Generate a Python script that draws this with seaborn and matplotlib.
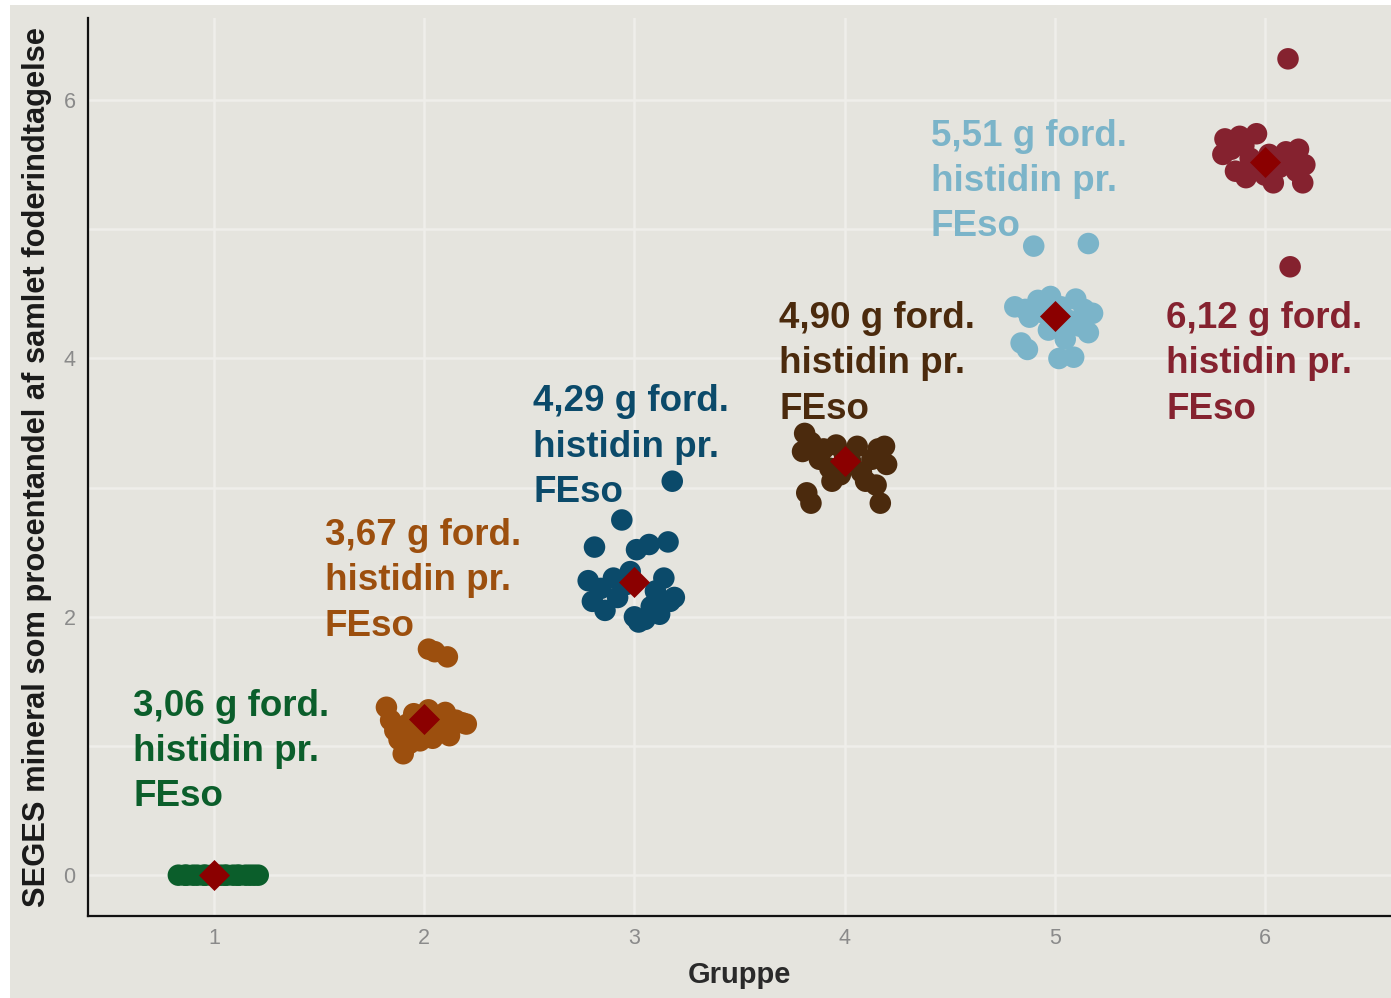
import matplotlib
matplotlib.use("Agg")
import matplotlib.pyplot as plt
import seaborn as sns
import pandas as pd
from matplotlib.patches import Rectangle

# ---------------- data ----------------
groups = [1, 2, 3, 4, 5, 6]
group_colors = ["#0b5e2b", "#9c4f0e", "#0b4a6a", "#4b2a0d", "#7bb4c9", "#85222f"]
annotations = [
    "3,06 g ford.\nhistidin pr.\nFEso",
    "3,67 g ford.\nhistidin pr.\nFEso",
    "4,29 g ford.\nhistidin pr.\nFEso",
    "4,90 g ford.\nhistidin pr.\nFEso",
    "5,51 g ford.\nhistidin pr.\nFEso",
    "6,12 g ford.\nhistidin pr.\nFEso",
]
group_means = [0.00, 1.21, 2.27, 3.21, 4.33, 5.52]

g1_x = [0.83, 0.86, 0.87, 0.90, 0.92, 0.95, 0.96, 0.99, 1.00, 1.03,
        1.05, 1.06, 1.09, 1.11, 1.12, 1.15, 1.17, 1.19, 1.21]
g1_y = [0.0, 0.0, 0.0, 0.0, 0.0, 0.0, 0.0, 0.0, 0.0, 0.0,
        0.0, 0.0, 0.0, 0.0, 0.0, 0.0, 0.0, 0.0, 0.0]

g2_x = [1.82, 1.84, 1.86, 1.88, 1.90, 1.92, 1.95, 1.97, 2.00, 2.02, 2.04, 2.06,
        2.08, 2.10, 2.12, 2.15, 2.18, 2.20, 2.02, 2.05, 2.11, 1.93, 1.98]
g2_y = [1.30, 1.20, 1.12, 1.05, 0.94, 1.17, 1.25, 1.10, 1.15, 1.28, 1.06, 1.22,
        1.12, 1.26, 1.08, 1.20, 1.18, 1.17, 1.75, 1.73, 1.69, 1.02, 1.04]

g3_x = [2.81, 2.94, 3.18, 3.01, 3.07, 3.16, 2.78, 2.80, 2.84, 2.86, 2.90, 2.92,
        2.96, 3.00, 3.02, 3.05, 3.08, 3.10, 3.14, 3.17, 3.19, 3.12, 2.98]
g3_y = [2.54, 2.75, 3.05, 2.52, 2.56, 2.58, 2.28, 2.12, 2.22, 2.05, 2.30, 2.15,
        2.25, 2.00, 1.96, 1.98, 2.08, 2.20, 2.30, 2.12, 2.15, 2.02, 2.35]

g4_x = [3.81, 3.80, 3.84, 3.88, 3.90, 3.93, 3.96, 3.98, 4.00, 4.03, 4.06,
        4.08, 4.10, 4.13, 4.16, 4.19, 4.20, 4.15, 4.17, 3.82, 3.84, 3.94]
g4_y = [3.42, 3.28, 3.35, 3.22, 3.30, 3.15, 3.33, 3.10, 3.25, 3.20, 3.32,
        3.12, 3.05, 3.22, 3.30, 3.32, 3.18, 3.02, 2.88, 2.96, 2.88, 3.05]

g5_x = [4.90, 5.16, 4.81, 4.86, 4.88, 4.92, 4.95, 4.98, 5.00, 5.03, 5.06,
        5.10, 5.14, 5.18, 5.16, 5.12, 4.84, 4.87, 5.02, 5.09, 5.05, 4.97]
g5_y = [4.87, 4.89, 4.40, 4.38, 4.32, 4.45, 4.35, 4.48, 4.25, 4.40, 4.30,
        4.46, 4.38, 4.35, 4.20, 4.25, 4.12, 4.07, 4.00, 4.01, 4.15, 4.22]

g6_x = [6.11, 6.12, 5.80, 5.81, 5.84, 5.86, 5.88, 5.91, 5.93, 5.96, 5.98,
        6.00, 6.04, 6.07, 6.10, 6.13, 6.16, 6.19, 6.18, 6.15, 5.90, 6.02]
g6_y = [6.32, 4.71, 5.58, 5.70, 5.62, 5.45, 5.72, 5.40, 5.55, 5.74, 5.50,
        5.42, 5.36, 5.48, 5.60, 5.55, 5.62, 5.50, 5.36, 5.45, 5.65, 5.58]

xs = [g1_x, g2_x, g3_x, g4_x, g5_x, g6_x]
ys = [g1_y, g2_y, g3_y, g4_y, g5_y, g6_y]

rows = []
for g, gx, gy in zip(groups, xs, ys):
    for a, b in zip(gx, gy):
        rows.append({"Gruppe": a, "val": b, "group": str(g)})
df = pd.DataFrame(rows)
means_df = pd.DataFrame({"Gruppe": groups, "val": group_means})

# ---------------- layout / style ----------------
BG = "#e5e4de"
GRID = "#efeeea"
text_pos = [(0.615, 1.445), (1.527, 2.765), (2.519, 3.80),
            (3.688, 4.445), (4.409, 5.855), (5.530, 4.445)]

sns.set_style("white")
plt.rcParams["font.family"] = ["Liberation Sans", "DejaVu Sans"]

W, H = 1391, 998
fig = plt.figure(figsize=(W / 100, H / 100), dpi=100)
fig.patch.set_facecolor("white")
fig.patches.append(Rectangle((10 / W, 0), 1 - 10 / W, 1 - 5 / H,
                             transform=fig.transFigure, facecolor=BG,
                             edgecolor="none", zorder=-10))

ax = fig.add_axes([88 / W, 1 - 916 / H, 1 - 88 / W, (916 - 18) / H])
ax.set_facecolor(BG)

sns.scatterplot(data=df, x="Gruppe", y="val", hue="group",
                palette=group_colors, s=240, linewidth=0, legend=False,
                ax=ax, zorder=2)
sns.scatterplot(data=means_df, x="Gruppe", y="val", marker="D", s=250,
                color="#8b0000", linewidth=0, ax=ax, zorder=3)

for (tx, ty), txt, c in zip(text_pos, annotations, group_colors):
    ax.text(tx, ty, txt, color=c, fontsize=26.5, fontweight="bold",
            ha="left", va="top", linespacing=1.38, zorder=4)

ax.set_xlim(0.4, 6.6)
ax.set_ylim(-0.316, 6.636)
ax.set_xticks(groups)
ax.set_xticklabels([str(g) for g in groups])
ax.set_yticks([0, 2, 4, 6])
ax.set_yticks([1, 3, 5], minor=True)
ax.grid(which="both", color=GRID, linewidth=1.8)
ax.set_axisbelow(True)

for s in ["top", "right"]:
    ax.spines[s].set_visible(False)
for s in ["left", "bottom"]:
    ax.spines[s].set_color("#111111")
    ax.spines[s].set_linewidth(1.6)

ax.tick_params(axis="both", which="major", length=5, width=1.2,
               color="#8a8a8a", labelcolor="#8a8a8a", labelsize=15.5)
ax.tick_params(axis="both", which="minor", length=0)
ax.tick_params(axis="x", pad=4)
ax.tick_params(axis="y", pad=4)

ax.set_xlabel("Gruppe", fontsize=21, fontweight="bold", color="#2a2a2a",
              labelpad=8)
ax.set_ylabel("SEGES mineral som procentandel af samlet foderindtagelse",
              fontsize=22.2, fontweight="bold", color="#1a1a1a", labelpad=8)

fig.savefig("out.png", dpi=100, facecolor=fig.get_facecolor())
